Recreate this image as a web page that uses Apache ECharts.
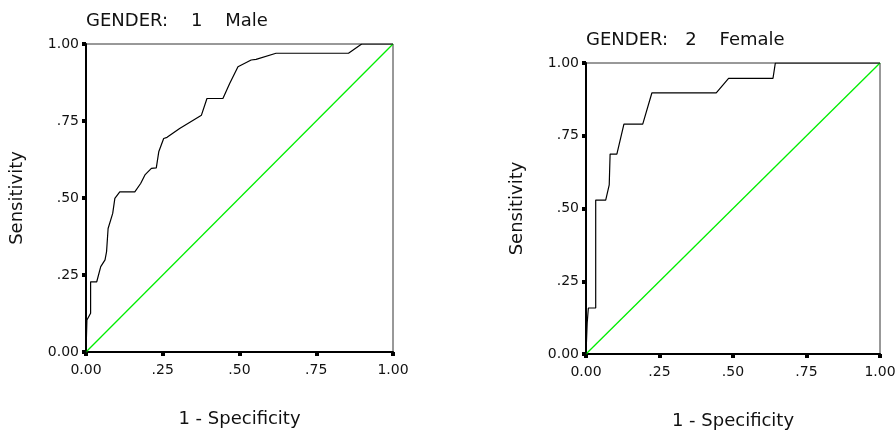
<!DOCTYPE html>
<html>
<head>
<meta charset="utf-8">
<script src="https://cdn.jsdelivr.net/npm/echarts@6/dist/echarts.min.js"></script>
<style>
html, body { margin: 0; padding: 0; background: #fff; }
#main { width: 896px; height: 430px; }
</style>
</head>
<body>
<div id="main"></div>
<script>
// ROC curve, male (1 - specificity, sensitivity)
var maleFpr = [0, 0.003, 0.015, 0.015, 0.035, 0.048, 0.062, 0.067, 0.072, 0.087, 0.094, 0.110, 0.159, 0.178, 0.192, 0.213, 0.229, 0.237, 0.253, 0.264, 0.305, 0.376, 0.394, 0.446, 0.468, 0.495, 0.538, 0.554, 0.619, 0.855, 0.898, 1];
var maleTpr = [0, 0.104, 0.126, 0.228, 0.228, 0.277, 0.299, 0.326, 0.401, 0.450, 0.499, 0.520, 0.520, 0.547, 0.575, 0.596, 0.598, 0.650, 0.693, 0.697, 0.726, 0.769, 0.823, 0.823, 0.872, 0.926, 0.948, 0.950, 0.970, 0.970, 1, 1];
// ROC curve, female
var femaleFpr = [0, 0.004, 0.008, 0.008, 0.033, 0.033, 0.067, 0.079, 0.082, 0.105, 0.129, 0.193, 0.224, 0.443, 0.485, 0.636, 0.644, 1];
var femaleTpr = [0, 0.106, 0.106, 0.158, 0.158, 0.529, 0.529, 0.581, 0.687, 0.687, 0.790, 0.790, 0.897, 0.897, 0.947, 0.947, 1, 1];
var diagonal = [[0, 0], [1, 1]];
var tickLabels = ['0.00', '.25', '.50', '.75', '1.00'];
var titles = ['GENDER:    1    Male', 'GENDER:   2    Female'];

function pairs(xs, ys) {
    var out = [];
    for (var i = 0; i < xs.length; i++) out.push([xs[i], ys[i]]);
    return out;
}

var font = 'DejaVu Sans';
var grids = [
    {left: 86, top: 44, width: 307, height: 308},
    {left: 586, top: 63, width: 294, height: 291}
];

function makeAxis(idx, isX) {
    return {
        type: 'value',
        gridIndex: idx,
        min: 0,
        max: 1,
        interval: 0.25,
        name: isX ? '1 - Specificity' : 'Sensitivity',
        nameLocation: 'middle',
        nameGap: isX ? 58 : 60,
        nameTextStyle: {fontFamily: font, fontSize: 18, color: '#111'},
        axisLine: {show: true, lineStyle: {color: '#000', width: 2}},
        axisTick: {show: true, length: 4, lineStyle: {color: '#000', width: 4}},
        axisLabel: {
            fontFamily: font,
            fontSize: 14,
            color: '#111',
            margin: isX ? 11 : 7,
            formatter: function (v) { return tickLabels[Math.round(v / 0.25)]; }
        },
        splitLine: {show: false}
    };
}

var myChart = echarts.init(document.getElementById('main'));
var option = {
    animation: false,
    backgroundColor: '#fff',
    title: [
        {text: titles[0], left: 86, top: 12, padding: 0, textStyle: {fontFamily: font, fontSize: 18, fontWeight: 'normal', color: '#111'}},
        {text: titles[1], left: 586, top: 31, padding: 0, textStyle: {fontFamily: font, fontSize: 18, fontWeight: 'normal', color: '#111'}}
    ],
    grid: grids.map(function (g) {
        return {left: g.left, top: g.top, width: g.width, height: g.height, outerBoundsMode: 'none', containLabel: false,
            show: true, borderColor: '#333', borderWidth: 1, backgroundColor: 'transparent'};
    }),
    xAxis: [makeAxis(0, true), makeAxis(1, true)],
    yAxis: [makeAxis(0, false), makeAxis(1, false)],
    series: [
        {type: 'line', xAxisIndex: 0, yAxisIndex: 0, data: diagonal, symbol: 'none', lineStyle: {color: '#00ee00', width: 1.3}},
        {type: 'line', xAxisIndex: 0, yAxisIndex: 0, data: pairs(maleFpr, maleTpr), symbol: 'none', lineStyle: {color: '#000', width: 1.2}},
        {type: 'line', xAxisIndex: 1, yAxisIndex: 1, data: diagonal, symbol: 'none', lineStyle: {color: '#00ee00', width: 1.3}},
        {type: 'line', xAxisIndex: 1, yAxisIndex: 1, data: pairs(femaleFpr, femaleTpr), symbol: 'none', lineStyle: {color: '#000', width: 1.2}}
    ]
};
myChart.setOption(option);
window.onresize = function () { myChart.resize(); };
</script>
</body>
</html>
